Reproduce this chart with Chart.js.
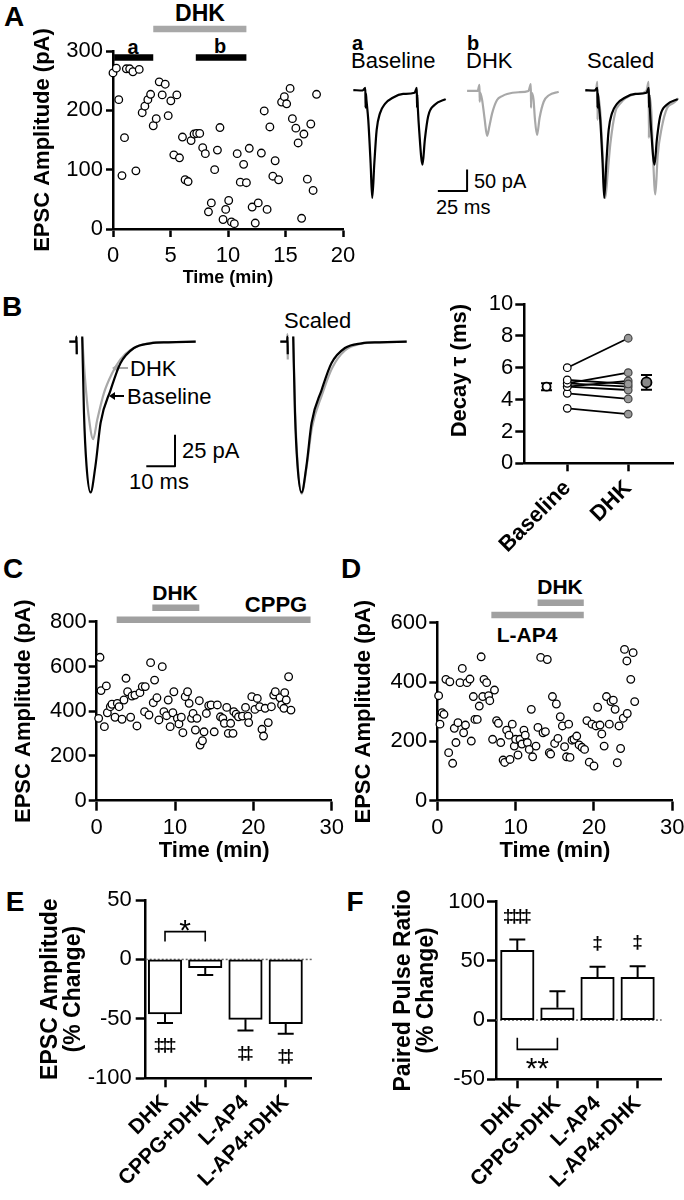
<!DOCTYPE html>
<html lang="en">
<head>
<meta charset="utf-8">
<title>DHK and EPSC amplitude</title>
<script src="https://cdn.jsdelivr.net/npm/chart.js@4.4.1/dist/chart.umd.min.js"></script>
<style>
  html, body { margin: 0; padding: 0; background: #fff; overflow: hidden; }
  #fig { position: relative; width: 684px; height: 1200px; font-family: "Liberation Sans", Arial, sans-serif; color: #000; }
  #fig canvas { position: absolute; }
  .t { position: absolute; white-space: nowrap; line-height: 1; transform: translate(-50%, -50%); }
  .l { transform: translate(0, -50%); }
  .b { font-weight: bold; }
  .arrow { position: absolute; height: 2px; }
  .arrow::before { content: ""; position: absolute; left: -5px; top: -3px; border-style: solid;
                   border-width: 4px 6px 4px 0; border-color: transparent currentColor transparent transparent; }
</style>
</head>
<body>
<div id="fig">
  <div class="t b" style="left:14px;top:17px;font-size:28px">A</div>
  <div class="t b" style="left:200px;top:13px;font-size:23px">DHK</div>
  <div class="t b" style="left:133px;top:47px;font-size:20px">a</div>
  <div class="t b" style="left:220px;top:46px;font-size:20px">b</div>
  <div class="t l b" style="left:352px;top:43px;font-size:20px">a</div>
  <div class="t l" style="left:351px;top:61px;font-size:22px">Baseline</div>
  <div class="t l b" style="left:467px;top:43px;font-size:20px">b</div>
  <div class="t l" style="left:466px;top:61px;font-size:22px">DHK</div>
  <div class="t l" style="left:587px;top:61px;font-size:22px">Scaled</div>
  <div class="t l" style="left:474px;top:181px;font-size:20px">50 pA</div>
  <div class="t l" style="left:436px;top:207px;font-size:20px">25 ms</div>

  <div class="t b" style="left:12px;top:307px;font-size:28px">B</div>
  <div class="t l" style="left:130px;top:369px;font-size:22px">DHK</div>
  <div class="t l" style="left:127px;top:397px;font-size:22px">Baseline</div>
  <div class="t l" style="left:182px;top:451px;font-size:22px">25 pA</div>
  <div class="t l" style="left:129px;top:482px;font-size:22px">10 ms</div>
  <div class="t l" style="left:284px;top:321px;font-size:22px">Scaled</div>
  <div class="arrow" style="left:117px;top:367px;width:11px;background:#a8a8a8;color:#a8a8a8"></div>
  <div class="arrow" style="left:114px;top:395px;width:10px;background:#000;color:#000"></div>

  <div class="t b" style="left:13px;top:569px;font-size:28px">C</div>
  <div class="t b" style="left:175px;top:592px;font-size:21px">DHK</div>
  <div class="t b" style="left:276px;top:605px;font-size:22px">CPPG</div>
  <div class="t b" style="left:351px;top:569px;font-size:28px">D</div>
  <div class="t b" style="left:560px;top:586px;font-size:21px">DHK</div>
  <div class="t b" style="left:527px;top:634px;font-size:21px">L-AP4</div>

  <div class="t b" style="left:15px;top:902px;font-size:28px">E</div>
  <div class="t b" style="left:355px;top:902px;font-size:28px">F</div>
</div>

<script>
// ---------- data ----------

// A: EPSC amplitude (pA) over time (min)
const aTime = [0, 0.29, 0.5, 0.78, 1.0, 1.16, 1.45, 1.73, 1.99, 2.28,
               2.54, 2.77, 3.03, 3.27, 3.5, 3.76, 4.02, 4.28, 4.54, 4.8,
               5.03, 5.29, 5.55, 5.78, 6.04, 6.27, 6.53, 6.79, 7.05, 7.28,
               7.54, 7.8, 8.03, 8.3, 8.55, 8.84, 9.08, 9.3, 9.57, 9.8,
               10.06, 10.3, 10.55, 10.8, 11.07, 11.36, 11.6, 11.85, 12.1, 12.37,
               12.63, 12.9, 13.15, 13.4, 13.64, 13.9, 14.1, 14.4, 14.66, 14.9,
               15.1, 15.4, 15.6, 15.9, 16.1, 16.4, 16.6, 16.9, 17.2, 17.4, 17.7];
const aAmp = [263, 271, 218, 90, 154, 270, 270, 265, 98, 269,
              196, 207, 218, 227, 174, 186, 248, 226, 244, 191,
              216, 125, 226, 120, 155, 83, 80, 149, 160, 161,
              161, 137, 127, 29, 44, 100, 133, 171, 16, 33,
              48, 12, 9, 127, 79, 109, 78, 136, 37, 10,
              44, 128, 199, 33, 172, 89, 115, 83, 214, 223,
              211, 237, 186, 170, 145, 18, 160, 84, 177, 65, 227];
// drug / averaging bars: DHK, a, b  (start, end in min; level in pA)
const aBarSpan = [[3.5, 11.6], [0.1, 3.5], [7.2, 11.6]];
const aBarLevel = [337, 289, 289];

// A traces: time (ms) and current (pA)
const aBaseT = [0, 8, 10.3, 10.5, 10.7, 11.2, 12.8, 14.8, 16.2, 18, 20, 22.8, 27.1, 34.2, 42.7, 52.5,
                54.4, 54.6, 54.8, 55.3, 56.4, 59.3, 61.3, 64.1, 69.8, 79.2];
const aBaseI = [2, 1, 7, -39, -5, -20, -67, -167, -248, -167, -90, -52, -30, -15, -7, -4,
                7, -39, -8, -40, -90, -171, -113, -59, -32, -19];
const aDhkT = [0, 9, 10.6, 10.8, 11.0, 12.8, 15, 17.1, 19.2, 21.4, 25.6, 30, 34.2, 44, 52.5,
               54.5, 54.7, 54.9, 56.8, 58, 59.8, 62, 65.5, 70, 78.3];
const aDhkI = [0, 0, 14, -25, -3, -20, -65, -104, -80, -52, -21, -12, -7, -3, 0,
               16, -39, -4, -20, -65, -102, -62, -25, -10, -2];
const aSclT = [0, 9, 10.3, 10.5, 10.7, 12.8, 15, 17.1, 19.2, 21.4, 25.6, 30, 34.2, 44, 52.3,
               54.3, 54.5, 54.7, 56.6, 58, 60, 62, 65.5, 70, 75.5, 79.8];
const aSclI = [0, 0, 21, -67, -8, -48, -155, -248, -190, -124, -50, -29, -17, -7, 0,
               21, -109, -10, -48, -150, -240, -150, -85, -40, -28, -17];
const aBarT = [-25, 0, 0];            // 25 ms
const aBarI = [-232, -232, -182];     // 50 pA

// B traces
const bBaseT = [-4.5, -2.1, -2.0, -1.9, -1.8, 0, 0.6, 1.5, 2.9, 4.6, 6.4, 9.9, 13.3, 18, 23.8, 30, 39.5];
const bBaseI = [0, 0, 4, -10, null, 4, -56, -98, -119, -98, -64, -38, -17, -5, -1.3, -0.5, 0];
const bDhkT = [-4.5, -2.1, -2.0, -1.9, -1.8, 0, 1.0, 2.2, 3.8, 5.2, 7.5, 10.4, 13.3, 16.8, 23.8, 30, 39.5];
const bDhkI = [0, 0, 4, -10, null, 3, -30, -58, -77, -62, -41, -25, -14, -6.5, -1, -0.3, 0];
const bSclT = [-4.5, -2.1, -2.0, -1.9, -1.8, 0, 0.6, 1.5, 2.9, 4.6, 6.5, 10, 13.5, 18, 24, 30, 39.5];
const bSclI = [0, 0, 6, -14, null, 4, -50, -95, -120, -100, -68, -42, -21, -7, -1.5, -0.5, 0];
const bBarT = [22.3, 32.3, 32.3];     // 10 ms
const bBarI = [-98.4, -98.4, -73.5];  // 25 pA

// B: decay tau (ms)
const decayCats = ['Baseline', 'DHK'];
const decayX = [1, 2];
const decayBase = [6.0, 5.23, 5.02, 4.81, 4.81, 5.02, 4.39, 3.45];
const decayDhk = [7.85, 4.98, 5.69, 5.17, 4.6, 4.81, 4.04, 3.09];
const decayMeanX = [0.66, 2.3];
const decayMean = [4.81, 5.08];
const decayErr = [0.22, 0.47];

// C: CPPG then DHK
const cTime = [0.25, 0.42, 0.55, 0.98, 1.23, 1.36, 1.74, 1.95, 2.34, 2.63,
               2.85, 3.23, 3.48, 3.74, 3.95, 4.33, 4.5, 4.88, 5.14, 5.52,
               5.82, 6.11, 6.2, 6.67, 6.88, 7.22, 7.39, 7.69, 7.94, 8.37,
               8.58, 8.92, 9.13, 9.38, 9.72, 9.85, 10.3, 10.5, 10.8, 11.0,
               11.3, 11.6, 11.8, 12.1, 12.3, 12.6, 12.8, 13.1, 13.2, 13.5,
               13.7, 14.0, 14.3, 14.6, 15.0, 15.4, 15.8, 16.1, 16.3, 16.6,
               16.8, 17.1, 17.4, 17.5, 17.8, 18.1, 18.6, 19.0, 19.3, 19.4,
               19.8, 20.2, 20.5, 20.8, 21.1, 21.3, 21.5, 21.9, 22.3, 22.6,
               22.8, 23.4, 23.6, 23.9, 24.0, 24.2, 24.5, 24.8];
const cAmp = [368, 641, 492, 331, 513, 393, 420, 431, 373, 435,
              420, 364, 450, 547, 487, 373, 468, 472, 334, 483,
              510, 398, 510, 383, 617, 438, 539, 460, 361, 599,
              398, 380, 450, 331, 393, 487, 368, 343, 373, 304,
              465, 487, 435, 368, 390, 316, 368, 447, 249, 268,
              308, 390, 425, 428, 308, 428, 375, 368, 346, 417,
              301, 346, 301, 398, 387, 375, 378, 417, 378, 349,
              465, 408, 457, 420, 319, 289, 413, 349, 420, 472,
              487, 460, 428, 413, 483, 450, 554, 405];
const cBarSpan = [[7.1, 13.1], [2.55, 27.3]];   // DHK, CPPG
const cBarLevel = [862, 809];

// D: L-AP4 then DHK
const dTime = [0.17, 0.34, 0.6, 0.85, 1.1, 1.45, 1.6, 1.96, 2.17, 2.38,
               2.64, 2.9, 3.19, 3.36, 3.6, 3.79, 4.17, 4.34, 4.6, 4.8,
               5.1, 5.36, 5.6, 5.8, 5.96, 6.3, 6.55, 6.7, 7.06, 7.3,
               7.57, 7.8, 8.1, 8.4, 8.6, 8.85, 9.15, 9.28, 9.57, 9.83,
               10.0, 10.3, 10.55, 10.8, 11.06, 11.23, 11.5, 11.74, 12.0, 12.17,
               12.6, 12.85, 13.2, 13.5, 13.8, 14.04, 14.3, 14.47, 14.7, 14.98,
               15.2, 15.4, 15.7, 15.97, 16.25, 16.5, 16.77, 16.94, 17.2, 17.45,
               17.8, 18.1, 18.47, 18.8, 19.1, 19.4, 19.74, 20.0, 20.26, 20.47,
               20.77, 21.0, 21.3, 21.6, 21.96, 22.17, 22.47, 22.7, 22.98, 23.2,
               23.4, 23.74, 23.9, 24.2, 24.25, 24.7, 25.0, 25.2];
const dAmp = [354, 258, 297, 291, 409, 162, 401, 126, 244, 196,
              263, 398, 446, 229, 255, 398, 410, 201, 351, 274,
              274, 319, 485, 351, 409, 398, 354, 337, 207, 373,
              270, 261, 196, 137, 129, 238, 221, 139, 258, 184,
              207, 154, 207, 191, 238, 221, 196, 173, 308, 148,
              184, 247, 483, 229, 233, 476, 162, 157, 351, 193,
              326, 210, 283, 252, 182, 148, 258, 146, 204, 207,
              218, 188, 180, 173, 270, 130, 258, 117, 252, 315,
              255, 225, 184, 351, 258, 334, 339, 308, 128, 252,
              176, 278, 510, 471, 294, 409, 499, 334];
const dBarSpan = [[12.8, 18.7], [6.9, 18.7]];   // DHK, L-AP4
const dBarLevel = [667, 626];

// E / F: summary bars (% change)
const groups = ['DHK', 'CPPG+DHK', 'L-AP4', 'L-AP4+DHK'];
const groupX = [0, 1, 2, 3];
const eMean = [-45.8, -7, -50.4, -54];
const eErr = [7.7, 6, 9.3, 8.5];
const eMarks = ['‡‡‡', '', '‡‡', '‡‡'];
const eBracket = {from: 0, to: 1, y: 23.4, leg: 15, text: '*'};
const fMean = [59, 10.4, 36.2, 36.2];
const fErr = [9, 14, 8.8, 9.3];
const fMarks = ['‡‡‡‡', '', '‡', '‡'];
const fBracket = {from: 0, to: 1, y: -24.7, leg: -14.9, text: '**'};

// ---------- drawing ----------
const BLACK = '#000', GREY = '#a8a8a8', BARGREY = '#a0a0a0';
const FONT = '"Liberation Sans", Arial, sans-serif';

Chart.defaults.font.family = FONT;
Chart.defaults.color = BLACK;
Chart.defaults.animation = false;
Chart.defaults.events = [];
Chart.defaults.plugins.legend.display = false;
Chart.defaults.plugins.tooltip.enabled = false;

const fig = document.getElementById('fig');
function canvasAt(left, top, w, h) {
  const c = document.createElement('canvas');
  c.width = Math.round(w);
  c.height = Math.round(h);
  c.style.left = left + 'px';
  c.style.top = top + 'px';
  c.style.width = Math.round(w) + 'px';
  c.style.height = Math.round(h) + 'px';
  fig.appendChild(c);
  return c;
}
const pts = (xs, ys) => xs.map((x, i) => ({x: x, y: ys[i]}));

function fixSize(size) {
  return s => {
    if (s.isHorizontal()) s.height = size; else s.width = size;
    s.paddingLeft = s.paddingRight = s.paddingTop = s.paddingBottom = 0;
  };
}

function axis(o) {
  const a = {
    type: 'linear', min: o.min, max: o.max, offset: false,
    afterFit: fixSize(o.size),
    afterBuildTicks: s => { s.ticks = o.ticks.map(v => ({value: v})); },
    border: {display: true, color: BLACK, width: 2.5},
    grid: {display: true, offset: false, drawOnChartArea: false, drawTicks: true,
           tickLength: o.tickLen, tickWidth: 2.5, tickColor: BLACK, color: BLACK},
    ticks: {color: BLACK, autoSkip: false, padding: o.pad,
            font: {size: o.font || 22, weight: o.bold ? 'bold' : 'normal'},
            minRotation: o.rot || 0, maxRotation: o.rot || 0},
    title: {display: !!o.title, text: o.title || '', color: BLACK,
            font: {size: o.tsize || 22, weight: 'bold', lineHeight: o.tlh || 1.2},
            padding: o.tpad || 0, align: o.talign || 'center'}
  };
  if (o.labels) a.ticks.callback = v => o.labels[o.ticks.indexOf(v)];
  return a;
}

function timeCourse(box, pad, xo, yo, times, amps, spans, levels, colors) {
  const sets = [{
    data: pts(times, amps), pointRadius: 3.8, pointBorderWidth: 1.3,
    pointBackgroundColor: '#fff', pointBorderColor: BLACK, clip: false
  }];
  spans.forEach((s, i) => sets.push({
    type: 'line', data: pts(s, [levels[i], levels[i]]), borderColor: colors[i],
    borderWidth: 6.5, pointRadius: 0, clip: false, borderCapStyle: 'butt'
  }));
  new Chart(canvasAt(...box), {
    type: 'scatter',
    data: {datasets: sets},
    options: {responsive: false, devicePixelRatio: 1, layout: {padding: pad},
              scales: {x: axis(xo), y: axis(yo)}}
  });
}

function traceChart(box, xr, yr, sets) {
  new Chart(canvasAt(...box), {
    type: 'line',
    data: {datasets: sets.map(s => ({
      data: pts(s.t, s.i), borderColor: s.color, borderWidth: s.w || 2.2, pointRadius: 0,
      cubicInterpolationMode: s.straight ? 'default' : 'monotone', tension: 0,
      spanGaps: false, clip: false, borderJoinStyle: 'round', borderCapStyle: 'butt'
    }))},
    options: {responsive: false, devicePixelRatio: 1, layout: {padding: 0},
              scales: {x: {type: 'linear', display: false, min: xr[0], max: xr[1]},
                       y: {type: 'linear', display: false, min: yr[0], max: yr[1]}}}
  });
}

// error bars, significance marks and bracket on the summary bars
function barExtras(means, errs, marks, bracket, textDy) {
  return {
    id: 'barExtras',
    beforeDatasetsDraw(ch) {
      const {ctx, chartArea, scales} = ch;
      const y0 = scales.y.getPixelForValue(0);
      ctx.save();
      ctx.setLineDash([2, 2]);
      ctx.strokeStyle = '#666';
      ctx.lineWidth = 1.5;
      ctx.beginPath();
      ctx.moveTo(chartArea.left, y0);
      ctx.lineTo(chartArea.right, y0);
      ctx.stroke();
      ctx.restore();
    },
    afterDatasetsDraw(ch) {
      const {ctx} = ch;
      const x = ch.scales.x, y = ch.scales.y;
      ctx.save();
      ctx.strokeStyle = BLACK;
      ctx.fillStyle = BLACK;
      ctx.lineWidth = 2;
      means.forEach((m, i) => {
        const s = m < 0 ? -1 : 1;
        const px = x.getPixelForValue(groupX[i]);
        const y1 = y.getPixelForValue(m), y2 = y.getPixelForValue(m + s * errs[i]);
        ctx.beginPath();
        ctx.moveTo(px, y1); ctx.lineTo(px, y2);
        ctx.moveTo(px - 8, y2); ctx.lineTo(px + 8, y2);
        ctx.stroke();
        const chars = [...marks[i]];
        ctx.font = 'bold 19px ' + FONT;
        ctx.textAlign = 'center';
        ctx.textBaseline = 'middle';
        chars.forEach((c, k) => ctx.fillText(c, px + (k - (chars.length - 1) / 2) * 6.2, y2 - s * 23));
      });
      const xa = x.getPixelForValue(groupX[bracket.from]), xb = x.getPixelForValue(groupX[bracket.to]);
      const yb = y.getPixelForValue(bracket.y), yl = y.getPixelForValue(bracket.leg);
      ctx.lineWidth = 1.6;
      ctx.beginPath();
      ctx.moveTo(xa, yl); ctx.lineTo(xa, yb); ctx.lineTo(xb, yb); ctx.lineTo(xb, yl);
      ctx.stroke();
      ctx.font = '30px ' + FONT;
      ctx.textBaseline = 'alphabetic';
      ctx.fillText(bracket.text, (xa + xb) / 2, yb + textDy + 0.57 * 30);
      ctx.restore();
    }
  };
}

function barPanel(box, pad, xo, yo, means, errs, marks, bracket, textDy) {
  new Chart(canvasAt(...box), {
    type: 'bar',
    data: {datasets: [{
      data: pts(groupX, means), backgroundColor: '#fff', borderColor: BLACK,
      borderWidth: 2, borderSkipped: false, barThickness: 33.5
    }]},
    options: {responsive: false, devicePixelRatio: 1, layout: {padding: pad},
              scales: {x: axis(xo), y: axis(yo)}},
    plugins: [barExtras(means, errs, marks, bracket, textDy)]
  });
}

// ----- A: time course -----
timeCourse([0, 0, 360, 290], {left: 0, top: 51, right: 17, bottom: 0},
  {min: 0, max: 20, ticks: [0, 5, 10, 15, 20], size: 61, tickLen: 8, pad: 6,
   title: 'Time (min)', tsize: 18, tpad: {top: 0, bottom: 1}},
  {min: 0, max: 300, ticks: [0, 100, 200, 300], size: 113, tickLen: 7, pad: 3,
   title: 'EPSC Amplitude (pA)', tsize: 22, tpad: {top: 30, bottom: 0}},
  aTime, aAmp, aBarSpan, aBarLevel, ['#a8a8a8', BLACK, BLACK]);

// ----- A: traces (1.17 px per ms, 0.433 px per pA) -----
traceChart([351, 78, 98, 126], [-2, 82], [-262, 30],
  [{t: aBaseT, i: aBaseI, color: BLACK}]);
traceChart([432, 78, 131, 126], [-30, 82], [-262, 30],
  [{t: aDhkT, i: aDhkI, color: GREY},
   {t: aBarT, i: aBarI, color: BLACK, straight: true, w: 2}]);
traceChart([583, 78, 98, 126], [-2, 82], [-262, 30],
  [{t: aBaseT, i: aBaseI, color: BLACK},
   {t: aSclT, i: aSclI, color: GREY}]);

// ----- B: traces (2.87 px per ms, 1.27 px per pA) -----
traceChart([64.5, 329, 135, 171], [-6, 41], [-125, 10],
  [{t: bBaseT, i: bBaseI, color: BLACK},
   {t: bDhkT, i: bDhkI, color: GREY},
   {t: bBarT, i: bBarI, color: BLACK, straight: true, w: 2}]);
traceChart([276, 329, 135, 171], [-6, 41], [-125, 10],
  [{t: bBaseT, i: bBaseI, color: BLACK},
   {t: bSclT, i: bSclI, color: GREY}]);

// ----- B: decay tau -----
(function () {
  const sets = decayBase.map((b, i) => ({
    type: 'line', data: pts(decayX, [b, decayDhk[i]]), borderColor: BLACK, borderWidth: 1.8,
    pointRadius: 3.8, pointBorderWidth: 1.2, pointBackgroundColor: ['#fff', '#999'],
    pointBorderColor: [BLACK, '#444'], clip: false
  }));
  sets.unshift({
    data: pts(decayMeanX, decayMean), pointRadius: [4, 5], pointBorderWidth: 1.8,
    pointBackgroundColor: ['#fff', '#888'], pointBorderColor: BLACK, clip: false
  });
  const meanErr = {
    id: 'meanErr',
    beforeDatasetsDraw(ch) {
      const {ctx} = ch, x = ch.scales.x, y = ch.scales.y;
      ctx.save();
      ctx.strokeStyle = BLACK;
      ctx.lineWidth = 2;
      decayMean.forEach((m, i) => {
        const px = x.getPixelForValue(decayMeanX[i]);
        const lo = y.getPixelForValue(m - decayErr[i]), hi = y.getPixelForValue(m + decayErr[i]);
        ctx.beginPath();
        ctx.moveTo(px, lo); ctx.lineTo(px, hi);
        ctx.moveTo(px - 5.5, lo); ctx.lineTo(px + 5.5, lo);
        ctx.moveTo(px - 5.5, hi); ctx.lineTo(px + 5.5, hi);
        ctx.stroke();
      });
      ctx.restore();
    }
  };
  new Chart(canvasAt(420, 285, 264, 270), {
    type: 'scatter',
    data: {datasets: sets},
    options: {responsive: false, devicePixelRatio: 1,
              layout: {padding: {left: 0, top: 19, right: 10.7, bottom: 0}},
              scales: {
                x: axis({min: 0.295, max: 2.74, ticks: decayX, labels: decayCats, size: 91.7,
                         tickLen: 8, pad: 4, rot: 45, bold: true, font: 22}),
                y: axis({min: 0, max: 10, ticks: [0, 2, 4, 6, 8, 10], size: 104.3, tickLen: 9, pad: 2,
                         font: 22, title: 'Decay τ (ms)', tsize: 22, talign: 'end',
                         tpad: {top: 27, bottom: 0}})
              }},
    plugins: [meanErr]
  });
})();

// ----- C and D: time courses -----
timeCourse([0, 555, 350, 310], {left: 0, top: 66.7, right: 18.3, bottom: 0},
  {min: 0, max: 30, ticks: [0, 10, 20, 30], size: 64.3, tickLen: 10, pad: 4,
   title: 'Time (min)', tsize: 22, tpad: {top: 0, bottom: 0.8}},
  {min: 0, max: 800, ticks: [0, 200, 400, 600, 800], size: 96.7, tickLen: 8, pad: 2,
   title: 'EPSC Amplitude (pA)', tsize: 22, tpad: {top: 11, bottom: 0}},
  cTime, cAmp, cBarSpan, cBarLevel, [BARGREY, BARGREY]);

timeCourse([340, 555, 360, 310], {left: 0, top: 67.7, right: 27.7, bottom: 0},
  {min: 0, max: 30, ticks: [0, 10, 20, 30], size: 64.3, tickLen: 10, pad: 4,
   title: 'Time (min)', tsize: 22, tpad: {top: 0, bottom: 0.8}},
  {min: 0, max: 600, ticks: [0, 200, 400, 600], size: 97.3, tickLen: 8, pad: 2,
   title: 'EPSC Amplitude (pA)', tsize: 22, tpad: {top: 11, bottom: 0}},
  dTime, dAmp, dBarSpan, dBarLevel, [BARGREY, BARGREY]);

// ----- E and F: summaries -----
barPanel([0, 880, 340, 320], {left: 0, top: 20, right: 28.3, bottom: 0},
  {min: -0.48, max: 3.646, ticks: groupX, labels: groups, size: 121.7, tickLen: 9, pad: 3,
   rot: 45, bold: true, font: 21},
  {min: -100, max: 50, ticks: [-100, -50, 0, 50], size: 145.7, tickLen: 10, pad: 4, font: 22,
   title: ['EPSC Amplitude', '(% Change)'], tsize: 23, tlh: 1.0, tpad: {top: 39.5, bottom: 0}},
  eMean, eErr, eMarks, eBracket, -9);

barPanel([340, 880, 344, 320], {left: 0, top: 21.7, right: 22.3, bottom: 0},
  {min: -0.531, max: 3.6, ticks: groupX, labels: groups, size: 120.7, tickLen: 9, pad: 3,
   rot: 45, bold: true, font: 21},
  {min: -50, max: 100, ticks: [-50, 0, 50, 100], size: 156, tickLen: 9, pad: 2, font: 22,
   title: ['Paired Pulse Ratio', '(% Change)'], tsize: 23, tlh: 1.0, tpad: {top: 52.5, bottom: 0}},
  fMean, fErr, fMarks, fBracket, 12);
</script>
</body>
</html>
